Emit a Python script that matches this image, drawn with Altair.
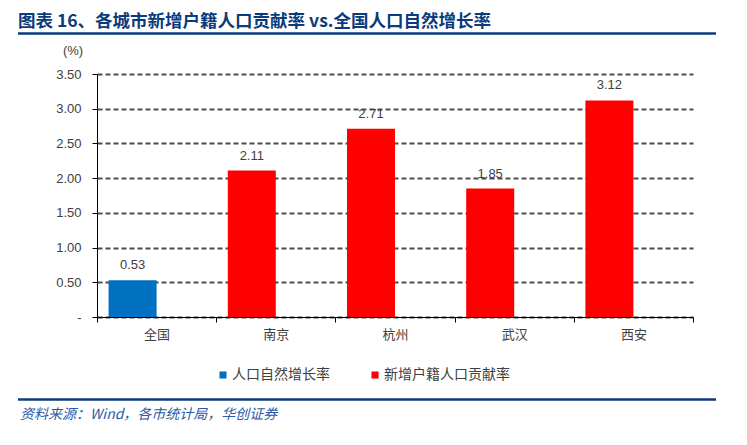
import altair as alt
import pandas as pd

cities = ["全国", "南京", "杭州", "武汉", "西安"]
values = [0.53, 2.11, 2.71, 1.85, 3.12]
series = ["人口自然增长率", "新增户籍人口贡献率", "新增户籍人口贡献率", "新增户籍人口贡献率", "新增户籍人口贡献率"]
series_order = ["人口自然增长率", "新增户籍人口贡献率"]
series_colors = ["#0070C0", "#FF0000"]
y_ticks = [0, 0.5, 1.0, 1.5, 2.0, 2.5, 3.0, 3.5]

title_text = "图表 16、各城市新增户籍人口贡献率 vs.全国人口自然增长率"
unit_text = "(%)"
source_text = "资料来源：Wind，各市统计局，华创证券"

df = pd.DataFrame({"city": cities, "value": values, "series": series, "slot": ["a"] * len(cities)})

CJK = "Noto Sans CJK SC"
NUM = "Liberation Sans"
TXT = "#404040"
NAVY = "#0B3B7A"

x_enc = alt.X("city:N", sort=cities, title=None,
              scale=alt.Scale(paddingInner=0, paddingOuter=0),
              axis=alt.Axis(tickBand="extent", labelAngle=0, labelFont=CJK, labelFontSize=13,
                            labelColor=TXT, tickSize=5, tickColor="#000", domainColor="#000",
                            labelPadding=6, grid=False))
xoff = alt.XOffset("slot:N", scale=alt.Scale(domain=["a", "b"], paddingInner=0, paddingOuter=0.2417))
y_enc = alt.Y("value:Q", title=None,
              scale=alt.Scale(domain=[0, 3.5], nice=False),
              axis=alt.Axis(values=y_ticks, labelOverlap=False,
                            labelExpr="datum.value == 0 ? '-' : format(datum.value, '.2f')",
                            labelFont=NUM, labelFontSize=13, labelColor=TXT, tickSize=5,
                            tickColor="#000", domainColor="#000", labelPadding=11,
                            grid=True, gridDash=[5, 3], gridColor="#4D4D4D", gridWidth=1.8))

bars = alt.Chart(df).mark_bar().encode(
    x=x_enc, xOffset=xoff, y=y_enc,
    color=alt.Color("series:N", scale=alt.Scale(domain=series_order, range=series_colors),
                    legend=alt.Legend(title=None, orient="none", legendX=119, legendY=294,
                                      direction="horizontal", symbolType="square", symbolSize=50,
                                      symbolStrokeWidth=0, labelFont=CJK, labelFontSize=14,
                                      labelColor=TXT, columnPadding=38, labelOffset=2, padding=0)))

labels = alt.Chart(df).mark_text(dy=-15, font=NUM, fontSize=13, color=TXT).encode(
    x=x_enc, xOffset=xoff, y=y_enc,
    text=alt.Text("value:Q", format=".2f"))

one = alt.Data(values=[{"k": 1}])

title = alt.Chart(one).mark_text(align="left", baseline="alphabetic", font=CJK, fontSize=17.5,
                                 fontWeight="bold", color=NAVY).encode(
    x=alt.value(-79), y=alt.value(-47), text=alt.value(title_text))
top_line = alt.Chart(one).mark_rule(color=NAVY, strokeWidth=2.5).encode(
    x=alt.value(-79), x2=alt.value(619), y=alt.value(-40.5))
unit = alt.Chart(one).mark_text(font=NUM, fontSize=13, color=TXT).encode(
    x=alt.value(-24), y=alt.value(-23.5), text=alt.value(unit_text))
bottom_line = alt.Chart(one).mark_rule(color=NAVY, strokeWidth=2.5).encode(
    x=alt.value(-79), x2=alt.value(619), y=alt.value(325.5))
source = alt.Chart(one).mark_text(align="left", baseline="alphabetic", font=CJK, fontSize=14,
                                  fontStyle="italic", color="#2A5AA8").encode(
    x=alt.value(-77), y=alt.value(345), text=alt.value(source_text))

chart = alt.layer(bars, labels, title, top_line, unit, bottom_line, source).properties(
    width=596, height=243,
    autosize=alt.AutoSizeParams(type="none"),
    padding={"left": 89, "top": 66, "right": 40, "bottom": 110},
).configure_view(stroke=None)

chart.save("out.html", embed_options={"renderer": "svg", "actions": False})
